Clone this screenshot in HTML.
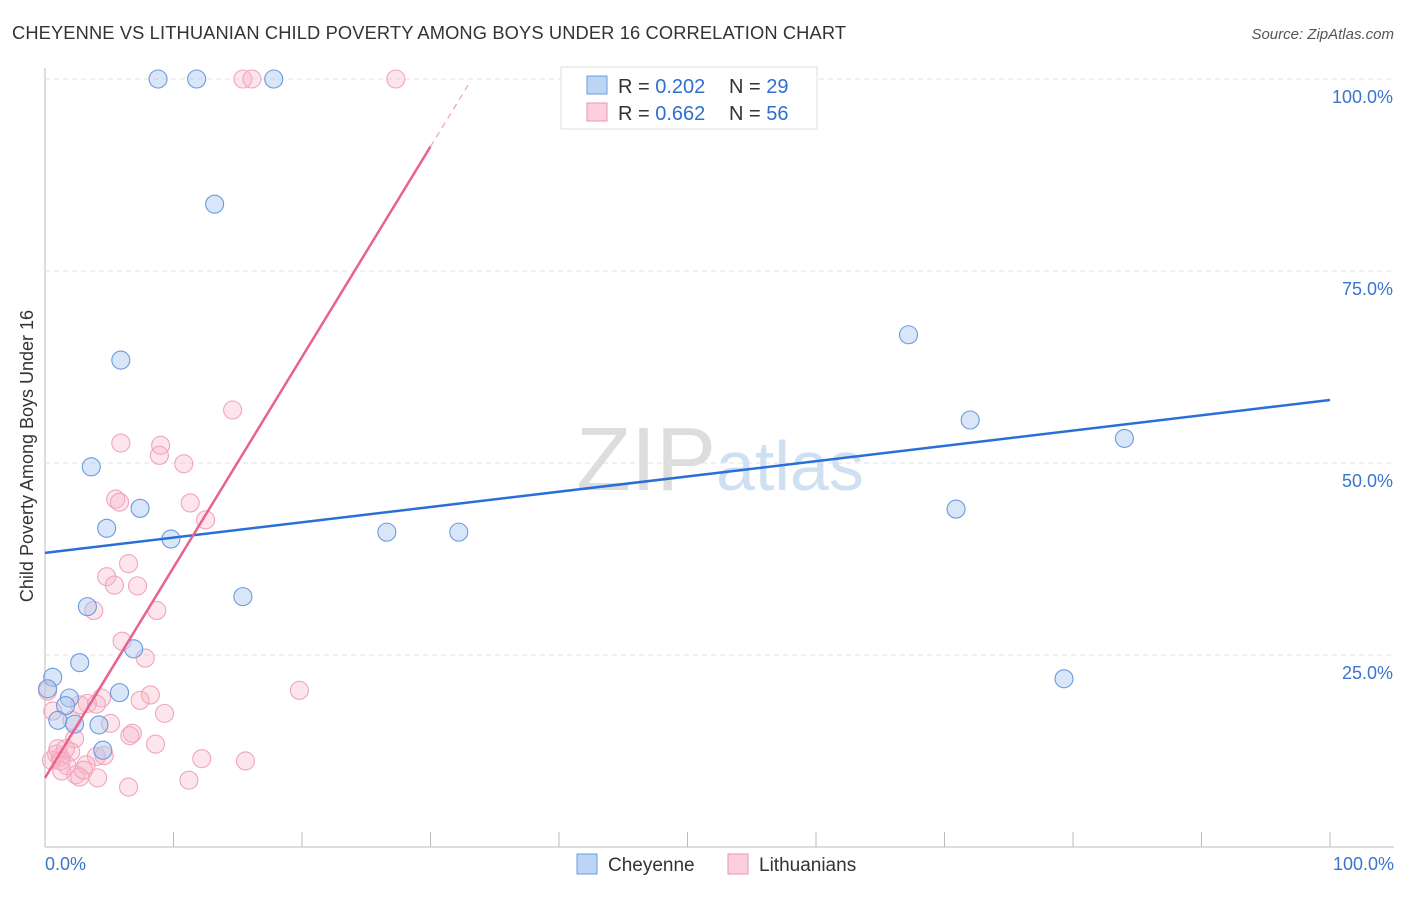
<!DOCTYPE html>
<html><head><meta charset="utf-8"><style>
body{margin:0;background:#fff;font-family:"Liberation Sans",sans-serif}
svg text{font-family:"Liberation Sans",sans-serif}
</style></head><body>
<svg width="1406" height="892" id="chart">
<text x="12" y="39" font-size="18.3" fill="#333" textLength="834">CHEYENNE VS LITHUANIAN CHILD POVERTY AMONG BOYS UNDER 16 CORRELATION CHART</text>
<text x="1394" y="39" font-size="15" fill="#555" font-style="italic" text-anchor="end">Source: ZipAtlas.com</text>
<text x="33" y="456" font-size="18" fill="#333" text-anchor="middle" transform="rotate(-90 33 456)">Child Poverty Among Boys Under 16</text>
<text x="716" y="490" font-size="90" fill="#ddd" text-anchor="end" font-family="Liberation Serif">ZIP</text>
<text x="716" y="490" font-size="70" fill="#cfe0f3">atlas</text>
<g id="grid"></g><g id="pts"></g><g id="lines"></g>
<g>
<rect x="561" y="67" width="256" height="62" fill="#fff" stroke="#ddd"/>
<rect x="587" y="76" width="20" height="18" fill="#bcd5f5" stroke="#6a9de0"/>
<rect x="587" y="103" width="20" height="18" fill="#fbd0dc" stroke="#ec93ae"/>
<text x="618" y="93" font-size="20" fill="#333">R = <tspan fill="#2f6fd0">0.202</tspan></text>
<text x="729" y="93" font-size="20" fill="#333">N = <tspan fill="#2f6fd0">29</tspan></text>
<text x="618" y="120" font-size="20" fill="#333">R = <tspan fill="#2f6fd0">0.662</tspan></text>
<text x="729" y="120" font-size="20" fill="#333">N = <tspan fill="#2f6fd0">56</tspan></text>
</g>
<g>
<rect x="577" y="854" width="20" height="20" fill="#bcd5f5" stroke="#6a9de0"/>
<text x="608" y="871" font-size="19" fill="#333">Cheyenne</text>
<rect x="728" y="854" width="20" height="20" fill="#fbd0dc" stroke="#ec93ae"/>
<text x="759" y="871" font-size="19" fill="#333">Lithuanians</text>
</g>
<text x="45" y="870" font-size="18" fill="#3a75cc">0.0%</text>
<text x="1394" y="870" font-size="18" fill="#3a75cc" text-anchor="end">100.0%</text>
</svg>
<script>
const yTicks=[25,50,75,100];
const yTickLabels=["25.0%","50.0%","75.0%","100.0%"];
const cheX=[8.8,11.8,17.8,13.2,5.9,3.6,7.4,4.8,9.8,15.4,3.3,6.9,2.7,0.6,0.2,5.8,1.9,1.6,1.0,2.3,4.2,4.5,26.6,32.2,67.2,72.0,70.9,84.0,79.3];
const cheY=[100,100,100,83.7,63.4,49.5,44.1,41.5,40.1,32.6,31.3,25.8,24.0,22.1,20.6,20.1,19.4,18.4,16.5,16.0,15.9,12.6,41.0,41.0,66.7,55.6,44.0,53.2,21.9];
const litX=[15.4,16.1,27.3,14.6,5.9,9.0,8.9,10.8,5.5,5.8,11.3,12.5,6.5,4.8,7.2,5.4,8.7,3.8,6.0,7.8,19.8,8.2,7.4,4.4,9.3,3.3,4.0,2.7,5.1,6.8,6.6,2.3,8.6,4.0,0.9,1.2,2.0,0.5,1.7,3.2,1.3,2.4,2.7,4.1,6.5,11.2,12.2,15.6,0.6,0.2,1.6,2.1,4.6,3.0,1.0,1.25];
const litY=[100,100,100,56.9,52.6,52.3,51.0,49.9,45.3,44.9,44.8,42.6,36.9,35.2,34.0,34.1,30.8,30.8,26.8,24.6,20.4,19.8,19.1,19.4,17.4,18.7,18.6,18.5,16.1,14.8,14.5,14.1,13.4,11.8,12.1,11.7,12.4,11.3,10.6,10.7,9.9,9.4,9.1,9.0,7.8,8.7,11.5,11.2,17.7,20.3,12.8,16.5,11.9,10.0,12.8,11.2];
const blueLine=[38.3,58.2];
const pinkLine=[9.0,2.74];
const X=v=>45+v*12.85, Y=v=>847-v*7.68;
const ns="http://www.w3.org/2000/svg";
const mk=(t,a,p)=>{const e=document.createElementNS(ns,t);for(const k in a)e.setAttribute(k,a[k]);p.appendChild(e);return e;};
const grid=document.getElementById('grid');
mk('line',{x1:45,y1:68,x2:45,y2:847,stroke:'#bbb'},grid);
mk('line',{x1:45,y1:847,x2:1394,y2:847,stroke:'#bbb'},grid);
for(let i=0;i<=10;i++){const l=mk('line',{x1:45+i*128.5,y1:832,x2:45+i*128.5,y2:847,stroke:'#bbb'},grid);

}
yTicks.forEach((t,i)=>{const l=mk('line',{x1:45,y1:Y(t),x2:1394,y2:Y(t),stroke:'#e2e2e2','stroke-dasharray':'5,4'},grid);


const tx=mk('text',{x:1393,y:Y(t)+24,'font-size':18,fill:'#3a75cc','text-anchor':'end'},grid);tx.textContent=yTickLabels[i];

});
const pts=document.getElementById('pts');
litX.forEach((x,i)=>{const c=mk('circle',{cx:X(x),cy:Y(litY[i]),r:9,fill:'rgba(248,180,200,0.35)',stroke:'#f0a5bd','stroke-width':1.1},pts);

});
cheX.forEach((x,i)=>{const c=mk('circle',{cx:X(x),cy:Y(cheY[i]),r:9,fill:'rgba(170,200,240,0.45)',stroke:'#6a9ade','stroke-width':1.1},pts);

});
const lines=document.getElementById('lines');
const b=mk('line',{x1:X(0),y1:Y(blueLine[0]),x2:X(100),y2:Y(blueLine[1]),stroke:'#2a6fd6','stroke-width':2.5},lines);


const p=mk('line',{x1:X(0),y1:Y(pinkLine[0]),x2:X(30),y2:Y(pinkLine[0]+30*pinkLine[1]),stroke:'#e8628e','stroke-width':2.5},lines);


const pd=mk('line',{x1:X(30),y1:Y(pinkLine[0]+30*pinkLine[1]),x2:X(33),y2:Y(pinkLine[0]+33*pinkLine[1]),stroke:'#f0a0ba','stroke-width':1.2,'stroke-dasharray':'6,5'},lines);


</script>
</body></html>
